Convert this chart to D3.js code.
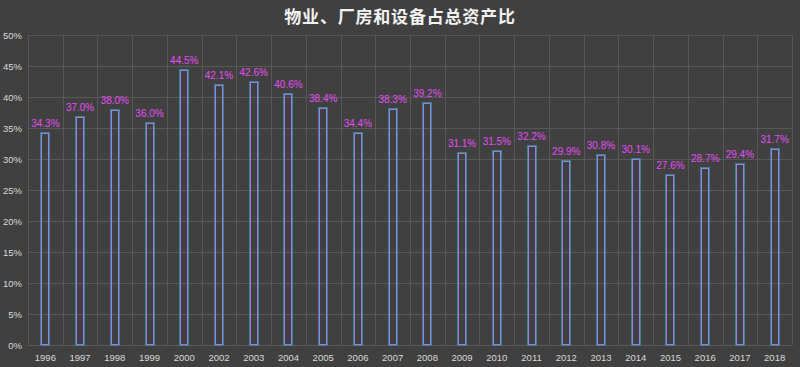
<!DOCTYPE html>
<html>
<head>
<meta charset="utf-8">
<script src="https://cdn.jsdelivr.net/npm/d3@7"></script>
<style>
body { margin: 0; background: #404040; }
svg { display: block; font-family: "Liberation Sans", Arial, sans-serif; }
</style>
</head>
<body>
<svg id="svg" width="800" height="367"></svg>
<script>
const years = ['1996','1997','1998','1999','2000','2002','2003','2004','2005','2006','2007','2008',
    '2009','2010','2011','2012','2013','2014','2015','2016','2017','2018'];
const ratio = [34.3, 37.0, 38.0, 36.0, 44.5, 42.1, 42.6, 40.6, 38.4, 34.4, 38.3, 39.2,
    31.1, 31.5, 32.2, 29.9, 30.8, 30.1, 27.6, 28.7, 29.4, 31.7];
const yTicks = [0, 5, 10, 15, 20, 25, 30, 35, 40, 45, 50];

const svg = d3.select('#svg');
const plotLeft = 28, plotRight = 792, plotTop = 35, plotBottom = 345;

svg.append('rect').attr('width', 800).attr('height', 367).attr('fill', '#404040');

const x = d3.scaleBand().domain(years).range([plotLeft, plotRight]);
const y = d3.scaleLinear().domain([0, 50]).range([plotBottom, plotTop]);

// horizontal grid
svg.append('g')
    .selectAll('line')
    .data(yTicks)
    .join('line')
    .attr('x1', plotLeft).attr('x2', plotRight)
    .attr('y1', d => Math.round(y(d)) + 0.5)
    .attr('y2', d => Math.round(y(d)) + 0.5)
    .attr('stroke', '#585858')
    .attr('stroke-width', 1);

// vertical grid at band edges
const edges = years.map(d => x(d)).concat([plotRight]);
svg.append('g')
    .selectAll('line')
    .data(edges)
    .join('line')
    .attr('x1', d => Math.round(d) + 0.5).attr('x2', d => Math.round(d) + 0.5)
    .attr('y1', plotTop).attr('y2', plotBottom)
    .attr('stroke', '#585858')
    .attr('stroke-width', 1);

// y axis labels
svg.append('g')
    .selectAll('text')
    .data(yTicks)
    .join('text')
    .attr('x', 22)
    .attr('y', d => y(d) + 3.5)
    .attr('text-anchor', 'end')
    .attr('font-size', 9.5)
    .attr('fill', '#d9d9d9')
    .text(d => d + '%');

// x axis labels
svg.append('g')
    .selectAll('text')
    .data(years)
    .join('text')
    .attr('x', d => x(d) + x.bandwidth() / 2)
    .attr('y', 361)
    .attr('text-anchor', 'middle')
    .attr('font-size', 9.5)
    .attr('fill', '#d9d9d9')
    .text(d => d);

// bars (hollow): faint teal outer line + lavender inner line
const bw = 10;
const barX = i => Math.round(x(years[i]) + x.bandwidth() / 2 - bw / 2);
const bars = svg.append('g');
bars.selectAll('rect.outer')
    .data(ratio)
    .join('rect')
    .attr('class', 'outer')
    .attr('x', (d, i) => barX(i) + 0.5)
    .attr('y', d => Math.round(y(d)) + 0.5)
    .attr('width', bw - 1)
    .attr('height', d => plotBottom - Math.round(y(d)))
    .attr('fill', 'none')
    .attr('stroke', '#3f828a')
    .attr('stroke-width', 1);
bars.selectAll('rect.inner')
    .data(ratio)
    .join('rect')
    .attr('class', 'inner')
    .attr('x', (d, i) => barX(i) + 1.5)
    .attr('y', d => Math.round(y(d)) + 1.5)
    .attr('width', bw - 3)
    .attr('height', d => plotBottom - Math.round(y(d)) - 2)
    .attr('fill', 'none')
    .attr('stroke', '#9480e4')
    .attr('stroke-width', 1);

// value labels
svg.append('g')
    .selectAll('text')
    .data(ratio)
    .join('text')
    .attr('x', (d, i) => x(years[i]) + x.bandwidth() / 2)
    .attr('y', d => y(d) - 5)
    .attr('text-anchor', 'middle')
    .attr('font-size', 10)
    .attr('fill', '#e44ef2')
    .text(d => d.toFixed(1) + '%');

// title
svg.append('text')
    .attr('x', 400)
    .attr('y', 23)
    .attr('text-anchor', 'middle')
    .attr('font-family', '"Noto Sans CJK SC", sans-serif')
    .attr('font-weight', 'bold')
    .attr('font-size', 17)
    .attr('letter-spacing', 0.8)
    .attr('fill', '#f2f2f2')
    .text('物业、厂房和设备占总资产比');
</script>
</body>
</html>
